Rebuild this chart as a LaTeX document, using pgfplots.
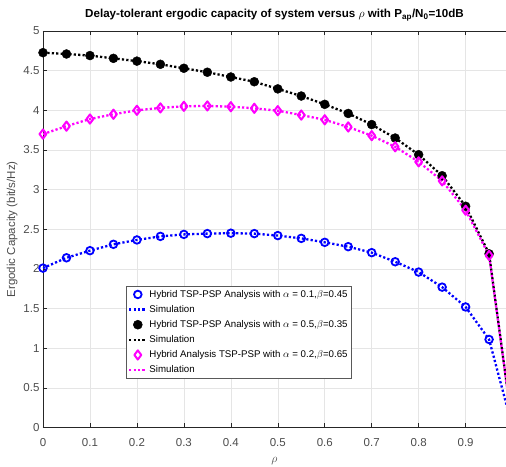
\documentclass[border=0pt]{standalone}
\usepackage{pgfplots}
\pgfplotsset{compat=1.18}
\usepackage{fontspec}
\setmainfont{Liberation Sans}
\definecolor{axgray}{rgb}{0.15,0.15,0.15}
\definecolor{tickgray}{rgb}{0.3,0.3,0.3}
\definecolor{mag}{rgb}{1,0,1}
\definecolor{blu}{rgb}{0,0,1}
\begin{document}
\begin{tikzpicture}
\begin{axis}[
  scale only axis,
  width=463pt, height=396.5pt,
  xmin=0, xmax=0.986, ymin=0, ymax=5,
  axis x line*=box, axis y line*=left,
  axis line style={axgray, line width=0.5pt},
  clip=true,
  xtick={0,0.1,...,0.9},
  ytick={0,0.5,...,5},
  xticklabels={0,0.1,0.2,0.3,0.4,0.5,0.6,0.7,0.8,0.9},
  yticklabels={0,0.5,1,1.5,2,2.5,3,3.5,4,4.5,5},
  /pgf/number format/assume math mode=true,
  tick label style={font=\fontsize{11.5}{13}\selectfont, text=tickgray},
  xticklabel style={yshift=-7.5pt},
  tick style={axgray, line width=0.5pt},
  major tick length=4.5pt,
  tick align=inside,
  grid=major,
  grid style={gray!20, line width=0.5pt},
  title={\bfseries Delay-tolerant ergodic capacity of system versus $\rho$ with P\textsubscript{ap}/N\textsubscript{0}=10dB},
  title style={font=\fontsize{11.6}{13}\selectfont, yshift=0pt},
  xlabel={$\rho$},
  ylabel={Ergodic Capacity (bit/s/Hz)},
  label style={font=\fontsize{11.5}{13}\selectfont, text=tickgray},
  xlabel style={yshift=-4pt},
  ylabel style={yshift=-1pt},
  legend style={at={(rel axis cs:0.179,0.357)}, anchor=north west,
    font=\fontsize{9.7}{11}\selectfont, draw=gray!70!black, line width=0.5pt,
    row sep=2.6pt, inner sep=2pt, fill=white},
  legend cell align=left,
]
% blue analysis
\addplot[only marks, blu, mark=o, mark size=3.8pt, line width=1.8pt] coordinates {
(0,2.01)(0.05,2.14)(0.1,2.23)(0.15,2.31)(0.2,2.365)(0.25,2.41)(0.3,2.435)(0.35,2.445)(0.4,2.45)(0.45,2.445)
(0.5,2.42)(0.55,2.385)(0.6,2.335)(0.65,2.28)(0.7,2.205)(0.75,2.09)(0.8,1.96)(0.85,1.77)(0.9,1.52)(0.95,1.11)};
\addlegendentry{Hybrid TSP-PSP Analysis with $\alpha$ = 0.1,$\beta$=0.45}
\addplot[blu, line width=2.3pt, dash pattern=on 2.2pt off 2.2pt] coordinates {
(0,2.01)(0.05,2.14)(0.1,2.23)(0.15,2.31)(0.2,2.365)(0.25,2.41)(0.3,2.435)(0.35,2.445)(0.4,2.45)(0.45,2.445)
(0.5,2.42)(0.55,2.385)(0.6,2.335)(0.65,2.28)(0.7,2.205)(0.75,2.09)(0.8,1.96)(0.85,1.77)(0.9,1.52)(0.95,1.11)(1,0)};
\addlegendentry{Simulation}
% black analysis
\addplot[only marks, black, mark=*, mark size=4.5pt] coordinates {
(0,4.727)(0.05,4.71)(0.1,4.69)(0.15,4.655)(0.2,4.62)(0.25,4.58)(0.3,4.53)(0.35,4.48)(0.4,4.42)(0.45,4.36)
(0.5,4.27)(0.55,4.18)(0.6,4.075)(0.65,3.96)(0.7,3.82)(0.75,3.65)(0.8,3.44)(0.85,3.175)(0.9,2.79)(0.95,2.19)};
\addlegendentry{Hybrid TSP-PSP Analysis with $\alpha$ = 0.5,$\beta$=0.35}
\addplot[black, line width=2.3pt, dash pattern=on 2.2pt off 2.2pt] coordinates {
(0,4.727)(0.05,4.71)(0.1,4.69)(0.15,4.655)(0.2,4.62)(0.25,4.58)(0.3,4.53)(0.35,4.48)(0.4,4.42)(0.45,4.36)
(0.5,4.27)(0.55,4.18)(0.6,4.075)(0.65,3.96)(0.7,3.82)(0.75,3.65)(0.8,3.44)(0.85,3.175)(0.9,2.79)(0.95,2.19)(1,0)};
\addlegendentry{Simulation}
% magenta analysis
\addplot[only marks, mag, mark=diamond, mark size=4.6pt, line width=2pt, line join=round] coordinates {
(0,3.70)(0.05,3.80)(0.1,3.89)(0.15,3.95)(0.2,4.00)(0.25,4.03)(0.3,4.05)(0.35,4.055)(0.4,4.045)(0.45,4.025)
(0.5,3.995)(0.55,3.94)(0.6,3.88)(0.65,3.79)(0.7,3.68)(0.75,3.54)(0.8,3.35)(0.85,3.11)(0.9,2.74)(0.95,2.17)};
\addlegendentry{Hybrid Analysis TSP-PSP with $\alpha$ = 0.2,$\beta$=0.65}
\addplot[mag, line width=2.3pt, dash pattern=on 2.2pt off 2.2pt] coordinates {
(0,3.70)(0.05,3.80)(0.1,3.89)(0.15,3.95)(0.2,4.00)(0.25,4.03)(0.3,4.05)(0.35,4.055)(0.4,4.045)(0.45,4.025)
(0.5,3.995)(0.55,3.94)(0.6,3.88)(0.65,3.79)(0.7,3.68)(0.75,3.54)(0.8,3.35)(0.85,3.11)(0.9,2.74)(0.95,2.17)(1,0)};
\addlegendentry{Simulation}
\end{axis}
\pgfresetboundingbox
\path[use as bounding box] ([xshift=-43pt,yshift=-39.5pt]current axis.south west) rectangle ([yshift=31pt]current axis.north east);
\end{tikzpicture}
\end{document}
